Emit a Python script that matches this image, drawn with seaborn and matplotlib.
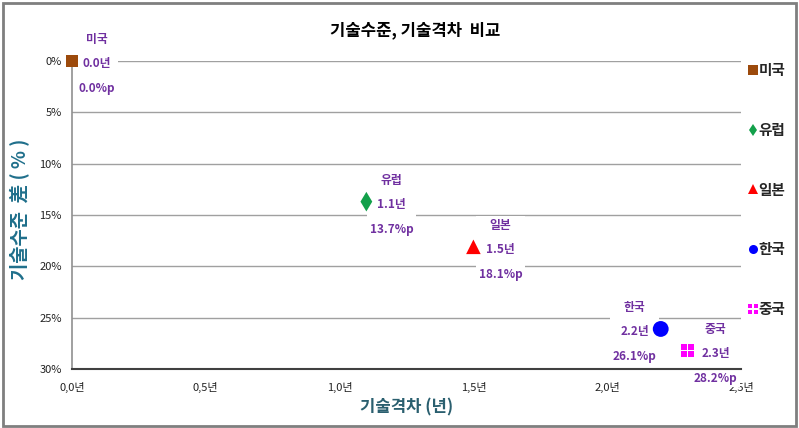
import matplotlib
matplotlib.use("Agg")
import matplotlib.pyplot as plt
import seaborn as sns
import pandas as pd
import numpy as np
from matplotlib.path import Path
from matplotlib.patches import Rectangle
from matplotlib.lines import Line2D

countries = ["미국", "유럽", "일본", "한국", "중국"]
gap_years = [0.0, 1.1, 1.5, 2.2, 2.3]
level_gap = [0.0, 13.7, 18.1, 26.1, 28.2]
colors = ["#9c4a0c", "#12a04a", "#ff0000", "#0000ff", "#ff00ff"]
x_ticks = [0.0, 0.5, 1.0, 1.5, 2.0, 2.5]
x_tick_labels = ["0,0년", "0,5년", "1,0년", "1,5년", "2,0년", "2,5년"]
y_ticks = [0, 5, 10, 15, 20, 25, 30]
y_tick_labels = ["0%", "5%", "10%", "15%", "20%", "25%", "30%"]

sns.set_theme(style="white")
plt.rcParams["font.family"] = ["Noto Sans CJK KR", "DejaVu Sans"]

# four-squares marker for China
def quad_marker():
    verts, codes = [], []
    g = 0.3
    for sx in (-1, 1):
        for sy in (-1, 1):
            x0 = g / 2 if sx > 0 else -1
            x1 = 1 if sx > 0 else -g / 2
            y0 = g / 2 if sy > 0 else -1
            y1 = 1 if sy > 0 else -g / 2
            verts += [(x0, y0), (x1, y0), (x1, y1), (x0, y1), (x0, y0)]
            codes += [Path.MOVETO, Path.LINETO, Path.LINETO, Path.LINETO, Path.CLOSEPOLY]
    return Path(verts, codes)

qm = quad_marker()
markers = {"미국": "s", "유럽": "d", "일본": "^", "한국": "o", "중국": qm}
sizes = {"미국": 80, "유럽": 100, "일본": 110, "한국": 130, "중국": 80}
label_dx = {"미국": 25, "유럽": 25, "일본": 27, "한국": -26, "중국": 28}
palette = dict(zip(countries, colors))

df = pd.DataFrame({"country": countries, "gap": gap_years, "level": level_gap})

fig = plt.figure(figsize=(7.99, 4.28), dpi=100)
ax = fig.add_axes([72 / 799, 1 - 369 / 428, (741 - 72) / 799, (369 - 61) / 428])

ax.set_xlim(0, 2.5)
ax.set_ylim(30, 0)
for yv in y_ticks[:-1]:
    ax.axhline(yv, color="#a0a0a0", lw=1.0, zorder=0)

for c in countries:
    sub = df[df.country == c]
    sns.scatterplot(data=sub, x="gap", y="level", marker=markers[c], s=sizes[c],
                    color=palette[c], edgecolor="none", linewidth=0, ax=ax,
                    zorder=5, clip_on=False, legend=False)

for c, gx, ly in zip(countries, gap_years, level_gap):
    ax.annotate(f"{c}\n{gx:.1f}년\n{ly:.1f}%p", xy=(gx, ly), xytext=(label_dx[c], -3),
                textcoords="offset pixels", ha="center", va="center",
                color="#7030a0", fontsize=8.5, fontweight="bold", linespacing=2.15,
                bbox=dict(facecolor="white", edgecolor="none", pad=2),
                zorder=2, annotation_clip=False)

ax.set_xticks(x_ticks)
ax.set_xticklabels(x_tick_labels, fontsize=8, color="#222222")
ax.set_yticks(y_ticks)
ax.set_yticklabels(y_tick_labels, fontsize=8, color="#222222")
ax.tick_params(axis="both", direction="inout", length=7, width=1, color="#333333", pad=4)
ax.tick_params(axis="x", pad=6)

for s in ["top", "right"]:
    ax.spines[s].set_visible(False)
ax.spines["left"].set_color("#909090")
ax.spines["left"].set_linewidth(1.2)
ax.spines["bottom"].set_color("#404040")
ax.spines["bottom"].set_linewidth(1.5)

ax.set_xlabel("기술격차 (년)", fontsize=12, color="#2a5f6f", fontweight="bold", labelpad=4)
ax.set_ylabel("기술수준  差 ( % )", fontsize=13.5, color="#1f6f8b", fontweight="bold")
ax.yaxis.set_label_coords(-0.063, 0.52)

fig.text(415 / 799, 1 - 30 / 428, "기술수준, 기술격차  비교", ha="center", va="center",
         fontsize=12, fontweight="bold", color="black")

handles = [Line2D([], [], linestyle="none", marker=markers[c], color=palette[c],
                  markersize=6.5, markeredgewidth=0) for c in countries]
leg = fig.legend(handles, countries, loc="upper left", bbox_to_anchor=(749 / 799, 1 - 62 / 428),
                 frameon=False, handlelength=0.5, handletextpad=0.15, labelspacing=3.0,
                 borderaxespad=0, borderpad=0,
                 prop={"family": ["Noto Sans CJK KR"], "size": 10.5, "weight": "bold"})

fig.patches.append(Rectangle((3 / 799, 2 / 428), 793 / 799, 423 / 428, transform=fig.transFigure,
                             fill=False, edgecolor="#7f7f7f", linewidth=2))

fig.savefig("out.png", dpi=100)
